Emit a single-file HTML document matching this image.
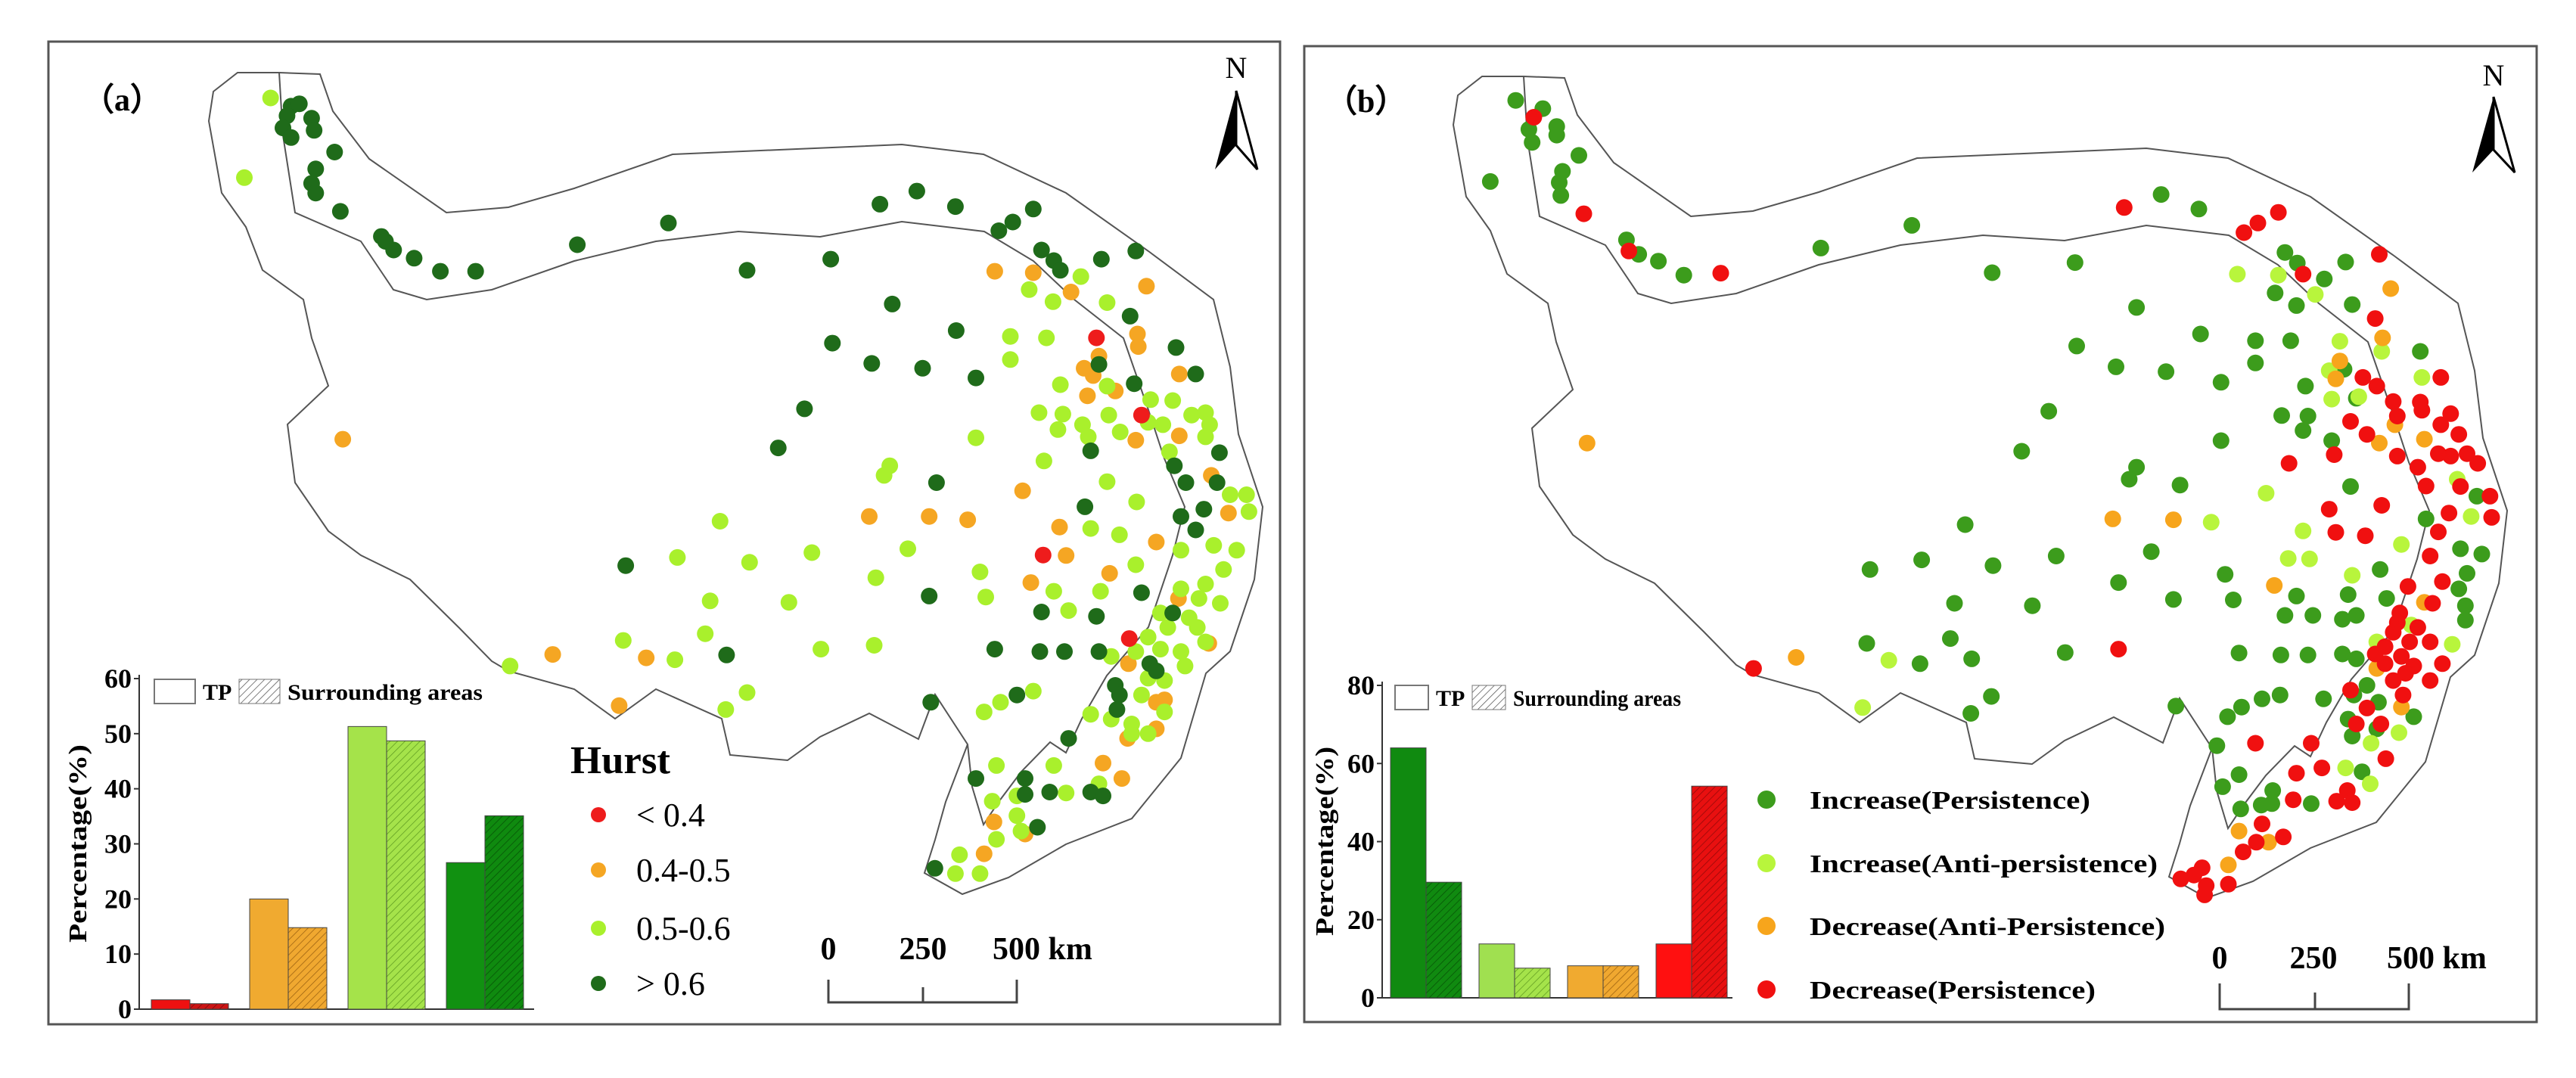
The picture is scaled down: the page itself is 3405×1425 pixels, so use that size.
<!DOCTYPE html>
<html><head><meta charset="utf-8"><style>
html,body{margin:0;padding:0;background:#fff;}
svg{display:block;}
text{font-family:"Liberation Serif",serif;}
</style></head><body>
<svg id="fig" width="3405" height="1425" viewBox="0 0 3405 1425" xmlns="http://www.w3.org/2000/svg">
<defs>
<pattern id="hatch-red" width="7" height="7" patternUnits="userSpaceOnUse" patternTransform="rotate(45)"><rect width="7" height="7" fill="#cc1414"/><line x1="0" y1="0" x2="0" y2="7" stroke="#7a0a0a" stroke-width="1.5"/></pattern>
<pattern id="hatch-orange" width="7" height="7" patternUnits="userSpaceOnUse" patternTransform="rotate(45)"><rect width="7" height="7" fill="#f0a830"/><line x1="0" y1="0" x2="0" y2="7" stroke="#9a6010" stroke-width="1.5"/></pattern>
<pattern id="hatch-lg" width="7" height="7" patternUnits="userSpaceOnUse" patternTransform="rotate(45)"><rect width="7" height="7" fill="#a5e34a"/><line x1="0" y1="0" x2="0" y2="7" stroke="#5e9a20" stroke-width="1.5"/></pattern>
<pattern id="hatch-dg" width="7" height="7" patternUnits="userSpaceOnUse" patternTransform="rotate(45)"><rect width="7" height="7" fill="#0f8a0f"/><line x1="0" y1="0" x2="0" y2="7" stroke="#065006" stroke-width="1.5"/></pattern>
<pattern id="hatch-g" width="7" height="7" patternUnits="userSpaceOnUse" patternTransform="rotate(45)"><rect width="7" height="7" fill="#108a10"/><line x1="0" y1="0" x2="0" y2="7" stroke="#065006" stroke-width="1.5"/></pattern>
<pattern id="hatch-r2" width="7" height="7" patternUnits="userSpaceOnUse" patternTransform="rotate(45)"><rect width="7" height="7" fill="#e81010"/><line x1="0" y1="0" x2="0" y2="7" stroke="#900808" stroke-width="1.5"/></pattern>
<pattern id="hatch-legend" width="7" height="7" patternUnits="userSpaceOnUse" patternTransform="rotate(45)"><rect width="7" height="7" fill="#fff"/><line x1="0" y1="0" x2="0" y2="7" stroke="#555" stroke-width="1.5"/></pattern>
</defs>
<rect x="64" y="55" width="1628" height="1299" fill="none" stroke="#555" stroke-width="3"/>
<rect x="1724" y="61" width="1629" height="1290" fill="none" stroke="#555" stroke-width="3"/>
<g id="mapA"></g>
<g id="mapB" transform="translate(1645,5)"></g>
<g id="dotsA"></g>
<g id="dotsB"></g>
<g id="barsA"></g>
<g id="barsB"></g>
<text x="109" y="146" font-size="42" font-weight="bold">（a）</text>
<text x="1752" y="148" font-size="42" font-weight="bold">（b）</text>
<g>
<text x="1634" y="103" font-size="40" text-anchor="middle" font-family="Liberation Sans, sans-serif">N</text>
<polygon points="1634,120 1606,224 1634,192" fill="#000"/>
<polygon points="1634,120 1662,224 1634,192" fill="#fff" stroke="#000" stroke-width="3"/>
</g>
<g>
<text x="3296" y="113" font-size="40" text-anchor="middle" font-family="Liberation Sans, sans-serif">N</text>
<polygon points="3296,128 3268,228 3296,198" fill="#000"/>
<polygon points="3296,128 3324,228 3296,198" fill="#fff" stroke="#000" stroke-width="3"/>
</g>
<g>
<text x="754" y="1022" font-size="52" font-weight="bold" textLength="132" lengthAdjust="spacingAndGlyphs">Hurst</text>
<circle cx="791" cy="1077" r="10" fill="#ee1c1c"/><text x="841" y="1092" font-size="44">&lt; 0.4</text>
<circle cx="791" cy="1150" r="10" fill="#f5a623"/><text x="841" y="1165" font-size="44">0.4-0.5</text>
<circle cx="791" cy="1227" r="10" fill="#a9f02c"/><text x="841" y="1242" font-size="44">0.5-0.6</text>
<circle cx="791" cy="1300" r="10" fill="#1f6b1a"/><text x="841" y="1315" font-size="44">&gt; 0.6</text>
</g>
<g font-weight="bold">
<circle cx="2335" cy="1057" r="12" fill="#3c9c1c"/><text x="2392" y="1069" font-size="34" textLength="371" lengthAdjust="spacingAndGlyphs">Increase(Persistence)</text>
<circle cx="2335" cy="1141" r="12" fill="#b8f53c"/><text x="2392" y="1153" font-size="34" textLength="460" lengthAdjust="spacingAndGlyphs">Increase(Anti-persistence)</text>
<circle cx="2335" cy="1224" r="12" fill="#f7a51c"/><text x="2392" y="1236" font-size="34" textLength="470" lengthAdjust="spacingAndGlyphs">Decrease(Anti-Persistence)</text>
<circle cx="2335" cy="1308" r="12" fill="#f01010"/><text x="2392" y="1320" font-size="34" textLength="378" lengthAdjust="spacingAndGlyphs">Decrease(Persistence)</text>
</g>
<g font-weight="bold" font-size="42">
<text x="1095" y="1268" text-anchor="middle">0</text>
<text x="1220" y="1268" text-anchor="middle">250</text>
<text x="1312" y="1268">500 km</text>
<path d="M1095,1295 V1325 H1344 V1295 M1220,1325 V1305" fill="none" stroke="#444" stroke-width="3"/>
</g>
<g font-weight="bold" font-size="42">
<text x="2934" y="1280" text-anchor="middle">0</text>
<text x="3058" y="1280" text-anchor="middle">250</text>
<text x="3155" y="1280">500 km</text>
<path d="M2934,1300 V1334 H3184 V1300 M3060,1334 V1312" fill="none" stroke="#444" stroke-width="3"/>
</g>
</svg>
<script>
// ---- map outlines (geometry) ----
const tpPath="M369,96 L374,179 390,281 477,319 520,383 564,396 650,383 759,345 867,319 976,306 1084,313 1192,293 1301,306 1366,345 1420,396 1485,447 1518,542 1539,606 1566,670 1550,734 1518,829 1463,893 1430,950 1409,995 1388,981 1350,1020 1320,1060 1300,1090 1285,1040 1279,984 1236,918 1214,977 1149,943 1084,974 1041,1005 965,998 954,950 867,911 813,950 759,911 672,887 650,874 607,830 542,766 477,734 434,702 390,638 380,561 434,510 412,447 401,396 347,357 325,300 293,255 276,160 282,121 314,96 Z";
const bufPath="M369,96 L423,98 440,147 488,210 590,281 672,274 759,249 889,204 1030,198 1192,191 1300,204 1409,255 1518,332 1604,396 1626,485 1637,574 1669,670 1658,766 1626,861 1594,890 1561,1002 1496,1082 1409,1116 1333,1160 1272,1182 1222,1154 1236,1110 1250,1060 1279,984";
const svgNS="http://www.w3.org/2000/svg";
function mk(tag,attrs,parent){const e=document.createElementNS(svgNS,tag);for(const k in attrs)e.setAttribute(k,attrs[k]);parent.appendChild(e);return e;}
['mapA','mapB'].forEach(id=>{
  const g=document.getElementById(id);
  const p1=mk('path',{d:tpPath,fill:'none',stroke:'#555','stroke-width':2},g);
  
  
  const p2=mk('path',{d:bufPath,fill:'none',stroke:'#555','stroke-width':2},g);
  
  
});

// ---- station data (map units) ----
const aDarkX=[355,365,350,345,355,380,383,408,385,380,385,415,465,470,480,505,537,580,704,815,911,1013,1073,1118,1165,1218,1235,1260,1270,1285,1293,1343,1385,1088,1166,1015,1063,1125,1190,1378,1434,1458,1383,1340,981,949,1142,1330,1432,1446,1487,1484,1323,1468,1440,1458,763,1133,1270,1337,1392,1213,1268,1298,1340,886,1402,1410,1135,1240,1360,1365,1362,1303,1430,1190,1250,1250,1280,1330,1345,1265,1140];
const aDarkY=[220,215,240,265,285,245,270,315,350,380,400,438,490,500,518,535,562,562,507,462,560,537,423,396,428,478,460,433,518,540,560,537,520,630,685,711,753,763,783,655,720,775,795,755,847,928,1000,934,965,1000,938,1000,1050,1055,1070,1098,1172,1235,1268,1277,1228,1345,1350,1350,1350,1357,1375,1390,1455,1440,1420,1440,1470,1530,1270,1613,1613,1646,1641,1641,1649,1714,1799];
const aLightX=[330,298,1318,1255,1284,1350,1232,1276,1232,1293,1350,1403,1430,1267,1296,1352,1320,1290,1366,1400,1418,1453,1470,1475,1190,1327,1470,1426,1273,1085,1078,1350,1500,1520,1523,1386,1330,1365,1440,1480,1508,878,826,914,990,1107,1385,1195,1068,1492,1285,1342,1202,1470,1462,1440,1488,1415,1450,866,962,1303,860,760,823,1001,1066,1355,1424,1400,1460,1470,1440,1415,1385,1445,1420,1400,1392,1420,1380,1355,1330,1260,1220,1200,911,885,622,1400,1380,1215,1210,1240,1300,1240,1215,1245,1195,1170,1165,1285,1340];
const aLightY=[203,368,573,600,625,627,697,700,745,797,800,828,830,855,858,860,880,890,895,875,880,860,855,880,907,905,905,936,955,965,985,998,1025,1025,1060,1040,1095,1108,1140,1130,1140,1080,1155,1165,1145,1137,1170,1185,1197,1180,1225,1225,1237,1210,1240,1220,1250,1270,1280,1245,1248,1265,1313,1327,1367,1345,1337,1360,1300,1320,1300,1330,1350,1345,1350,1380,1410,1405,1440,1475,1500,1490,1480,1432,1455,1475,1435,1470,1380,1520,1520,1586,1660,1649,1643,1690,1739,1722,1810,1771,1810,1586,1624];
const aOrangeX=[1213,1260,1306,1398,1387,1388,1340,1322,1333,1360,1326,1438,1385,1438,1477,418,1247,1060,1133,1180,1292,1498,1410,1300,1353,1257,1437,1474,1376,674,788,755,1410,1420,1410,1375,1212,1250,1200,1345,1368];
const aOrangeY=[562,565,605,593,692,718,738,763,778,810,820,775,912,903,985,910,1017,1070,1070,1077,1092,1063,1123,1151,1188,1207,1240,1333,1375,1356,1363,1462,1455,1450,1510,1530,1703,1728,1769,1581,1613];
const aRedX=[1337,1392,1272,1377];
const aRedY=[700,860,1150,1323];

const bGreenX=[280,313,296,300,330,330,357,337,333,335,249,415,430,454,485,652,763,861,962,1067,1113,1037,1115,964,1012,1073,1140,1182,1182,1225,1218,1233,1266,1292,1206,1232,1300,1383,1243,1290,1305,1214,1246,1240,1275,1140,930,897,1037,1028,1090,1298,1390,1432,1458,1440,1430,1452,828,712,775,862,939,1055,1145,1334,1015,1082,1155,1232,1295,1342,815,910,1218,1252,1288,1305,1438,1438,708,810,773,836,950,1162,1213,1246,1288,1305,1318,860,835,1085,1148,1165,1190,1212,1265,1302,1295,1332,1330,1375,1300,1135,1142,1162,1164,1189,1202,1203,1250,1312];
const bGreenY=[208,225,268,295,262,280,322,355,378,405,376,497,527,541,570,514,467,565,544,403,433,637,692,717,760,770,792,706,752,706,523,545,578,543,607,633,631,728,800,765,825,861,862,892,913,913,852,935,968,993,1005,1008,1075,1137,1148,1188,1220,1028,1087,1180,1160,1172,1152,1143,1190,1180,1207,1242,1243,1235,1232,1240,1250,1255,1275,1275,1283,1275,1255,1285,1333,1323,1375,1365,1352,1353,1357,1357,1355,1365,1420,1443,1478,1463,1485,1465,1448,1440,1448,1440,1490,1455,1510,1485,1525,1545,1630,1605,1676,1668,1665,1638,1665,1599];
const bLightX=[1160,1210,1255,1285,1336,1272,1275,1308,1385,1428,1195,1128,1240,1222,1248,1300,1360,1445,1372,1422,1330,735,703,1357,1323,1322,1292];
const bLightY=[568,570,610,707,728,768,827,822,782,993,1022,1082,1100,1157,1158,1192,1128,1070,1295,1335,1330,1368,1466,1518,1540,1624,1591];
const bOrangeX=[1347,1337,1285,1280,1352,1388,1333,367,1008,1082,1205,1388,1330,622,1360,1162,1198,1149];
const bOrangeY=[598,700,748,785,880,910,918,918,1075,1077,1213,1248,1385,1362,1465,1722,1745,1792];
const bRedX=[302,363,418,530,1022,1168,1185,1210,1240,1333,1328,1313,1330,1350,1383,1408,1355,1385,1298,1420,1408,1430,1318,1355,1278,1223,1380,1405,1440,1453,1420,1390,1432,1468,1470,1418,1336,1272,1280,1316,1405,1395,1410,1368,1398,1358,1380,1350,1370,1395,1340,1360,1375,1340,1365,1395,1350,1328,1298,1318,1305,1335,1362,1250,1182,1015,570,1355,1410,1232,1263,1228,1281,1294,1300,1341,1190,1216,1183,1167,1117,1091,1107,1122,1120,1149];
const bRedY=[243,443,520,566,430,482,462,440,568,527,660,782,800,832,833,782,862,850,873,857,880,900,900,945,942,960,968,940,940,960,945,1007,1008,1028,1072,1063,1047,1055,1103,1110,1102,1152,1205,1215,1250,1270,1300,1310,1330,1330,1340,1360,1380,1375,1395,1410,1410,1355,1430,1467,1500,1500,1440,1540,1540,1345,1385,1290,1375,1602,1591,1657,1660,1638,1663,1572,1707,1734,1745,1765,1798,1821,1813,1835,1854,1832];

function projAx(x){return x*1.084;}
function projAy(y){return y*0.638;}
function projBx(x){return 1700+x*1.084;}
function projBy(y){return y*0.638;}

function drawDots(gid,xs,ys,px,py,color,name){
  const g=document.getElementById(gid);
  for(let i=0;i<xs.length;i++){
    const c=mk('circle',{cx:px(xs[i]).toFixed(1),cy:py(ys[i]).toFixed(1),r:11,fill:color},g);
    
    
  }
}
drawDots('dotsA',aOrangeX,aOrangeY,projAx,projAy,'#f5a623','station-hurst-0.4-0.5');
drawDots('dotsA',aLightX,aLightY,projAx,projAy,'#a9f02c','station-hurst-0.5-0.6');
drawDots('dotsA',aDarkX,aDarkY,projAx,projAy,'#1f6b1a','station-hurst-gt-0.6');
drawDots('dotsA',aRedX,aRedY,projAx,projAy,'#ee1c1c','station-hurst-lt-0.4');
drawDots('dotsB',bGreenX,bGreenY,projBx,projBy,'#3c9c1c','station-increase-persistence');
drawDots('dotsB',bLightX,bLightY,projBx,projBy,'#b8f53c','station-increase-anti-persistence');
drawDots('dotsB',bOrangeX,bOrangeY,projBx,projBy,'#f7a51c','station-decrease-anti-persistence');
drawDots('dotsB',bRedX,bRedY,projBx,projBy,'#f01010','station-decrease-persistence');

// ---- bar chart data ----
const catA=['<0.4','0.4-0.5','0.5-0.6','>0.6'];
const tpA=[1.7,20,51.3,26.6];
const surA=[1.0,14.8,48.7,35.1];
const ticksA=[0,10,20,30,40,50,60];
const catB=['Increase(Persistence)','Increase(Anti-persistence)','Decrease(Anti-Persistence)','Decrease(Persistence)'];
const tpB=[64,13.8,8.2,13.8];
const surB=[29.6,7.6,8.2,54.2];
const ticksB=[0,20,40,60,80];

function drawBarChart(gid,o){
  const g=document.getElementById(gid);
  const y=v=>o.y0-(v-o.min)*(o.y0-o.y1)/(o.max-o.min);
  // axes
  const ax=mk('path',{d:`M${o.ax},${o.y1-5} V${o.y0} H${o.xEnd}`,fill:'none',stroke:'#333','stroke-width':2},g);
  
  
  o.ticks.forEach(t=>{
    const tk=mk('line',{x1:o.ax-7,x2:o.ax,y1:y(t),y2:y(t),stroke:'#333','stroke-width':2},g);
    
    
    const lb=mk('text',{x:o.ax-10,y:y(t)+12,'font-size':36,'font-weight':'bold','text-anchor':'end'},g);
    lb.textContent=t;
    
    
  });
  o.cats.forEach((c,i)=>{
    const x0=o.first+i*o.step;
    const b1=mk('rect',{x:x0,y:y(o.tp[i]),width:o.bw,height:o.y0-y(o.tp[i]),fill:o.colors[i],stroke:'#444','stroke-width':1},g);
    
    
    const b2=mk('rect',{x:x0+o.bw,y:y(o.sur[i]),width:o.bw,height:o.y0-y(o.sur[i]),fill:o.hatch[i],stroke:'#444','stroke-width':1},g);
    
    
  });
  const yl=mk('text',{x:0,y:0,'font-size':34,'font-weight':'bold','text-anchor':'middle',textLength:o.ylLen,lengthAdjust:'spacingAndGlyphs',transform:`translate(${o.ylx},${o.yly}) rotate(-90)`},g);
  yl.textContent='Percentage(%)';
  
  
  // legend
  const lg=mk('g',{},g);
  
  
  mk('rect',{x:o.lgx,y:o.lgy-16,width:o.lbw,height:32,fill:'#fff',stroke:'#777','stroke-width':2},lg);
  const t1=mk('text',{x:o.lgx+o.lbw+10,y:o.lgy+11,'font-size':30,'font-weight':'bold'},lg);t1.textContent='TP';
  mk('rect',{x:o.lgx+o.lbw+58,y:o.lgy-16,width:o.lbw,height:32,fill:'url(#hatch-legend)',stroke:'#777','stroke-width':1},lg);
  const t2=mk('text',{x:o.lgx+2*o.lbw+68,y:o.lgy+11,'font-size':30,'font-weight':'bold',textLength:o.surLen,lengthAdjust:'spacingAndGlyphs'},lg);t2.textContent='Surrounding areas';
}
drawBarChart('barsA',{cats:catA,tp:tpA,sur:surA,ticks:ticksA,min:0,max:60,y0:1334,y1:897,ax:184,xEnd:706,first:200,step:130,bw:51,
  colors:['#ee1111','#f0aa30','#a5e34a','#119111'],hatch:['url(#hatch-red)','url(#hatch-orange)','url(#hatch-lg)','url(#hatch-dg)'],
  ylx:114,yly:1115,ylLen:262,lgx:204,lgy:914,lbw:54,surLen:258});
drawBarChart('barsB',{cats:catB,tp:tpB,sur:surB,ticks:ticksB,min:0,max:80,y0:1319,y1:906,ax:1827,xEnd:2290,first:1838,step:117,bw:47,
  colors:['#108a10','#a0e050','#f0aa30','#ff1010'],hatch:['url(#hatch-g)','url(#hatch-lg)','url(#hatch-orange)','url(#hatch-r2)'],
  ylx:1762,yly:1112,ylLen:250,lgx:1844,lgy:922,lbw:44,surLen:222});
</script>
</body></html>
